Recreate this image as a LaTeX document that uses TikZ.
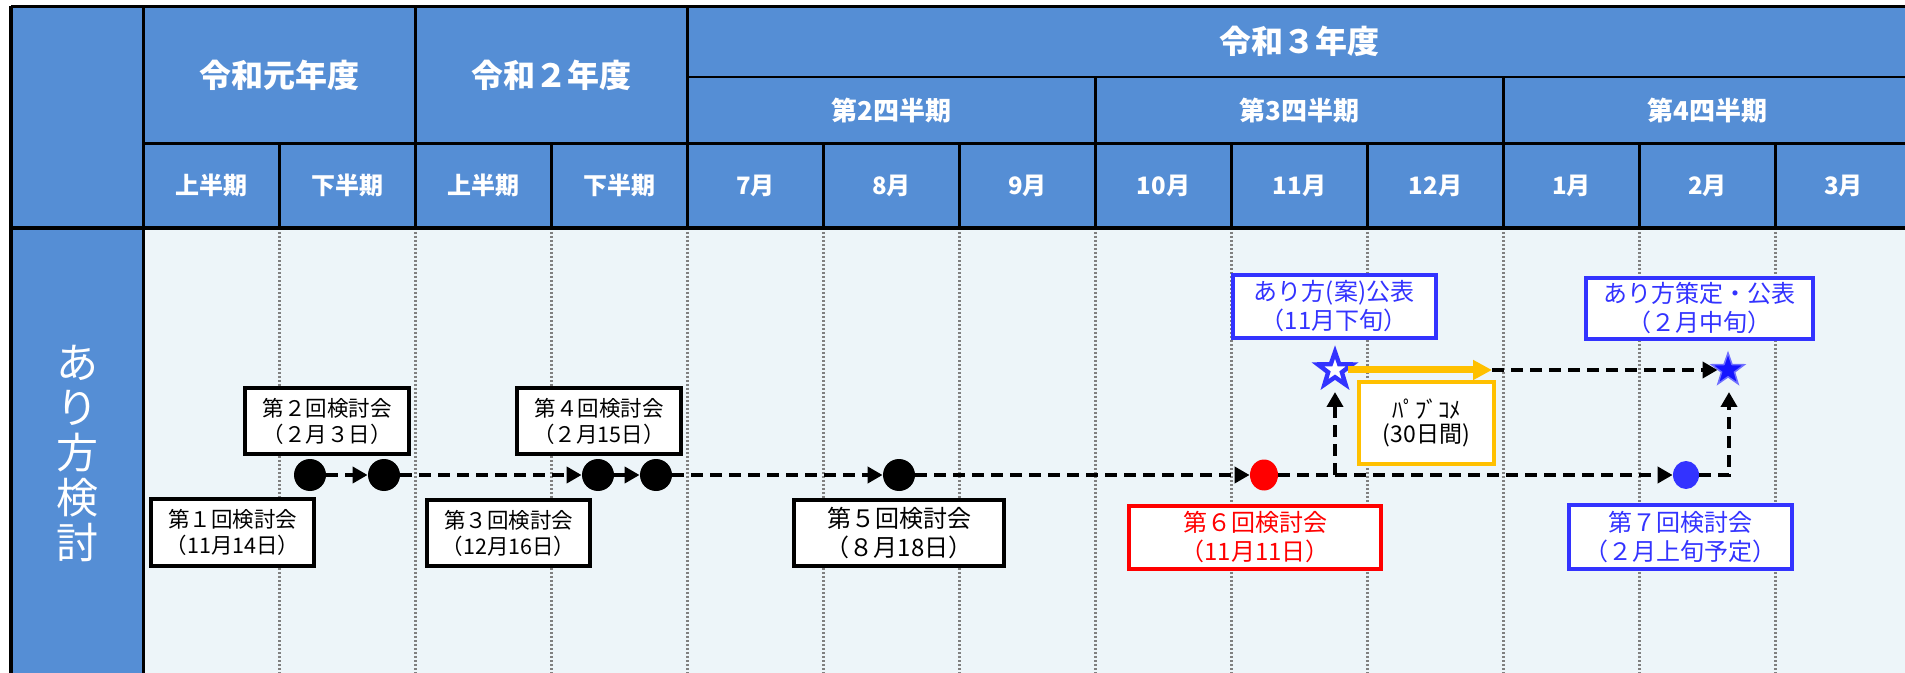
\documentclass[tikz,border=0pt]{standalone}
\usepackage{fontspec}
\setmainfont{Noto Sans CJK JP}
\usetikzlibrary{shapes.geometric,arrows.meta}
\definecolor{hdr}{RGB}{85,142,213}
\definecolor{bodybg}{RGB}{237,245,249}
\definecolor{gridc}{RGB}{128,128,128}
\definecolor{mblue}{RGB}{51,51,255}
\definecolor{mred}{RGB}{255,0,0}
\definecolor{myellow}{RGB}{255,192,0}
\definecolor{sblue}{RGB}{20,20,255}
\tikzset{
  tline/.style={line width=1.6pt, black},
  thinline/.style={line width=0.8pt, black},
  gridline/.style={gridc, line width=1.25pt, dash pattern=on 1.1pt off 0.9pt},
  hyear/.style={text=white, font=\fontsize{16}{18}\selectfont\bfseries},
  hquarter/.style={text=white, font=\fontsize{13}{15}\selectfont\bfseries},
  hmonth/.style={text=white, font=\fontsize{12}{14}\selectfont\bfseries},
  dot/.style={ellipse, fill=black, inner sep=0pt, minimum width=16pt, minimum height=16pt},
  evbox/.style={draw=black, fill=white, line width=2pt, align=center, inner sep=0pt},
  smallfont/.style={font=\fontsize{10.75}{13}\selectfont},
  bigfont/.style={font=\fontsize{12}{14.5}\selectfont},
  flow/.style={line width=2pt, dash pattern=on 6pt off 3.5pt, -{Triangle[length=7.5pt,width=8pt]}},
  yarrow/.style={draw=myellow, line width=3.5pt, -{Triangle[length=9.5pt,width=9.5pt]}},
  starnode/.style={star, star points=5, star point ratio=2.5, inner sep=0pt},
}
\begin{document}
\begin{tikzpicture}[x=0.5pt,y=-0.5pt]
\useasboundingbox (0,0) rectangle (1905,673);
\clip (0,0) rectangle (1905,673);
% backgrounds
\fill[hdr] (11,6.5) rectangle (1915,228);
\fill[bodybg] (143.5,228) rectangle (1915,680);
\fill[hdr] (11,228) rectangle (143.5,680);
% dotted grid in body
\foreach \k in {1,...,12} \draw[gridline] ({143.5+136*\k},228) -- ({143.5+136*\k},680);
% table lines
\draw[tline] (11,6.5) -- (1915,6.5);
\draw[tline] (11,6.5) -- (11,680);
\draw[tline] (143.5,6.5) -- (143.5,680);
\draw[tline] (11,228) -- (1915,228);
\draw[tline] (143.5,143.5) -- (1915,143.5);
\draw[thinline] (687.5,77) -- (1915,77);
\foreach \k in {2,4} \draw[tline] ({143.5+136*\k},6.5) -- ({143.5+136*\k},228);
\foreach \k in {7,10} \draw[tline] ({143.5+136*\k},77) -- ({143.5+136*\k},228);
\foreach \k in {1,3,5,6,8,9,11,12} \draw[tline] ({143.5+136*\k},143.5) -- ({143.5+136*\k},228);
% header texts
\node[hyear] (y1) at (279.5,75) {令和元年度};
\node[hyear] (y2) at (551.5,75) {令和２年度};
\node[hyear] (y3) at (1299.5,41.75) {令和３年度};
\node[hquarter] (q2) at (891.5,110.25) {第2四半期};
\node[hquarter] (q3) at (1299.5,110.25) {第3四半期};
\node[hquarter] (q4) at (1707.5,110.25) {第4四半期};
\foreach \lab [count=\i from 0] in {上半期,下半期,上半期,下半期,7月,8月,9月,10月,11月,12月,1月,2月,3月}
  \node[hmonth] (m\i) at ({211.5+136*\i},185.75) {\lab};
% side label
\node[text=white, font=\fontsize{21}{22.5}\selectfont, align=center] (side) at (77,453) {あ\\り\\方\\検\\討};
% event boxes
\node[evbox, smallfont, minimum width=81.5pt, minimum height=33.5pt] (b1) at (232.5,532.5) {第１回検討会\\（11月14日）};
\node[evbox, smallfont, minimum width=82pt, minimum height=33pt] (b2) at (327,421) {第２回検討会\\（２月３日）};
\node[evbox, smallfont, minimum width=81.5pt, minimum height=33pt] (b3) at (508.5,533) {第３回検討会\\（12月16日）};
\node[evbox, smallfont, minimum width=82pt, minimum height=33pt] (b4) at (599,421) {第４回検討会\\（２月15日）};
\node[evbox, bigfont, minimum width=105pt, minimum height=33pt] (b5) at (899,533) {第５回検討会\\（８月18日）};
\node[evbox, bigfont, draw=mred, text=mred, minimum width=126pt, minimum height=31.5pt] (b6) at (1255,537.5) {第６回検討会\\（11月11日）};
\node[evbox, bigfont, draw=mblue, text=mblue, minimum width=101.5pt, minimum height=31.5pt] (b7) at (1334,306.5) {あり方(案)公表\\（11月下旬）};
\node[evbox, draw=myellow, line width=2.4pt, font=\fontsize{11.5}{12}\selectfont, minimum width=67.5pt, minimum height=41pt] (b8) at (1426.5,423) {ﾊﾟﾌﾞｺﾒ\\(30日間)};
\node[evbox, bigfont, draw=mblue, text=mblue, minimum width=113.5pt, minimum height=30.5pt] (b9) at (1699.5,308.5) {あり方策定・公表\\（２月中旬）};
\node[evbox, bigfont, draw=mblue, text=mblue, minimum width=111.5pt, minimum height=32pt] (b10) at (1680.5,537) {第７回検討会\\（２月上旬予定）};
% milestones
\node[dot] (c1) at (310,475) {};
\node[dot] (c2) at (384,475) {};
\node[dot] (c3) at (598,475) {};
\node[dot] (c4) at (656,475) {};
\node[dot] (c5) at (899,475) {};
\node[dot, fill=mred, minimum width=14pt, minimum height=15.5pt] (c6) at (1264,475) {};
\node[dot, fill=mblue, minimum width=13pt, minimum height=14pt] (c7) at (1686,475) {};
\node[starnode, draw=mblue, fill=white, line width=2.2pt, minimum size=18pt] (s1) at (1335,370) {};
\node[starnode, fill=sblue, draw=mblue!70, line width=0.75pt, minimum size=17pt] (s2) at (1728,370) {};
\coordinate (s1b) at (1335,392);
\coordinate (s2b) at (1729,392);
\coordinate (pe) at (1492,370);
% connectors
\draw[flow] (c1) -- (c2);
\draw[flow] (c2) -- (c3);
\draw[flow] (c3) -- (c4);
\draw[flow] (c4) -- (c5);
\draw[flow] (c5) -- (c6);
\draw[flow] (c6) -- (c7);
\draw[flow] (c6) -| (s1b);
\draw[flow] (c7) -| (s2b);
\draw[yarrow] (s1) -- (pe);
\draw[flow] (pe) -- (s2);
\end{tikzpicture}
\end{document}
